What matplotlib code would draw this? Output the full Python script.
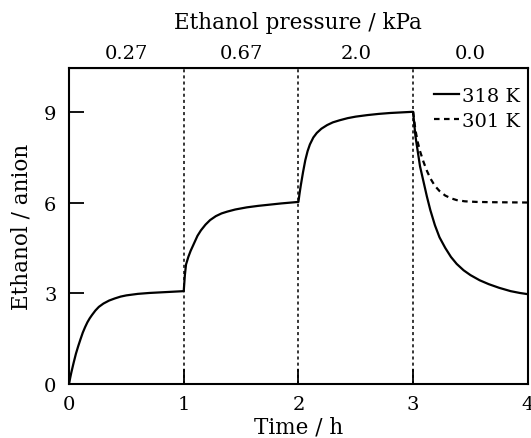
import matplotlib
matplotlib.use("Agg")
import matplotlib.pyplot as plt

plt.rcParams['font.family'] = ['DejaVu Serif']

# 318 K uptake curve (time / h, ethanol per anion)
t_318 = [0.00, 0.01, 0.02, 0.04, 0.06, 0.08, 0.10, 0.12, 0.14, 0.16, 0.18, 0.20, 0.23,
         0.26, 0.30, 0.35, 0.40, 0.45, 0.50, 0.60, 0.70, 0.80, 0.90, 1.00,
         1.01, 1.02, 1.04, 1.06, 1.09, 1.12, 1.15, 1.19, 1.23, 1.28, 1.33, 1.38, 1.45,
         1.55, 1.65, 1.75, 1.85, 2.00,
         2.01, 2.02, 2.04, 2.06, 2.08, 2.10, 2.13, 2.16, 2.20, 2.25, 2.30, 2.36, 2.43,
         2.50, 2.60, 2.70, 2.80, 2.90, 3.00,
         3.01, 3.02, 3.04, 3.06, 3.09, 3.12, 3.15, 3.19, 3.23, 3.28, 3.33, 3.38, 3.44,
         3.50, 3.58, 3.66, 3.75, 3.85, 3.93, 4.00]
y_318 = [0.00, 0.20, 0.38, 0.70, 1.00, 1.25, 1.48, 1.70, 1.88, 2.04, 2.17, 2.28, 2.43,
         2.55, 2.66, 2.76, 2.83, 2.89, 2.93, 2.98, 3.01, 3.03, 3.05, 3.07,
         3.60, 3.95, 4.20, 4.40, 4.65, 4.90, 5.08, 5.27, 5.42, 5.55, 5.64, 5.70, 5.77,
         5.84, 5.89, 5.93, 5.97, 6.02,
         6.30, 6.55, 7.00, 7.40, 7.70, 7.92, 8.15, 8.30, 8.44, 8.56, 8.65, 8.72, 8.79,
         8.84, 8.89, 8.93, 8.96, 8.98, 9.00,
         8.60, 8.20, 7.70, 7.20, 6.70, 6.20, 5.75, 5.25, 4.85, 4.50, 4.20, 3.97, 3.76,
         3.60, 3.43, 3.30, 3.18, 3.07, 3.01, 2.97]

# 301 K desorption curve after the pressure returns to zero
t_301 = [3.00, 3.01, 3.02, 3.04, 3.06, 3.09, 3.12, 3.15, 3.19, 3.23, 3.28, 3.33, 3.38,
         3.45, 3.55, 3.70, 4.00]
y_301 = [9.00, 8.70, 8.40, 8.00, 7.70, 7.35, 7.05, 6.80, 6.55, 6.38, 6.23, 6.14, 6.08,
         6.04, 6.02, 6.01, 6.00]

switch_times = [1, 2, 3]
pressure_pos = [0.5, 1.5, 2.5, 3.5]
pressure_labels = ['0.27', '0.67', '2.0', '0.0']

fig = plt.figure(figsize=(5.31, 4.39), dpi=100)
ax = fig.add_axes([0.130, 0.123, 0.864, 0.720])

for ts in switch_times:
    ax.axvline(ts, color='black', linestyle=(0, (2, 2)), linewidth=1.1)

ax.plot(t_318, y_318, color='black', linewidth=1.6, label='318 K')
ax.plot(t_301, y_301, color='black', linewidth=1.6, linestyle=(0, (2.5, 2)), label='301 K')

ax.set_xlim(0, 4)
ax.set_ylim(0, 10.45)
ax.set_xticks([0, 1, 2, 3, 4])
ax.set_yticks([0, 3, 6, 9])
ax.tick_params(direction='in', length=11, width=1.3, labelsize=14)
ax.tick_params(axis='x', pad=8)
ax.tick_params(axis='y', pad=9)
for sp in ax.spines.values():
    sp.set_linewidth(1.5)

ax.set_xlabel('Time / h', fontsize=15.5, labelpad=2)
ax.set_ylabel('Ethanol / anion', fontsize=15.5, labelpad=8)

top = ax.secondary_xaxis('top')
top.set_xticks(pressure_pos)
top.set_xticklabels(pressure_labels)
top.tick_params(length=0, labelsize=14, pad=4)
top.set_xlabel('Ethanol pressure / kPa', fontsize=15.5, labelpad=12)

ax.legend(loc='upper right', bbox_to_anchor=(1.0, 0.965), frameon=False, fontsize=14,
          handlelength=1.3, handletextpad=0.15, borderaxespad=0, labelspacing=0.35)

fig.savefig('out.png', dpi=100)
